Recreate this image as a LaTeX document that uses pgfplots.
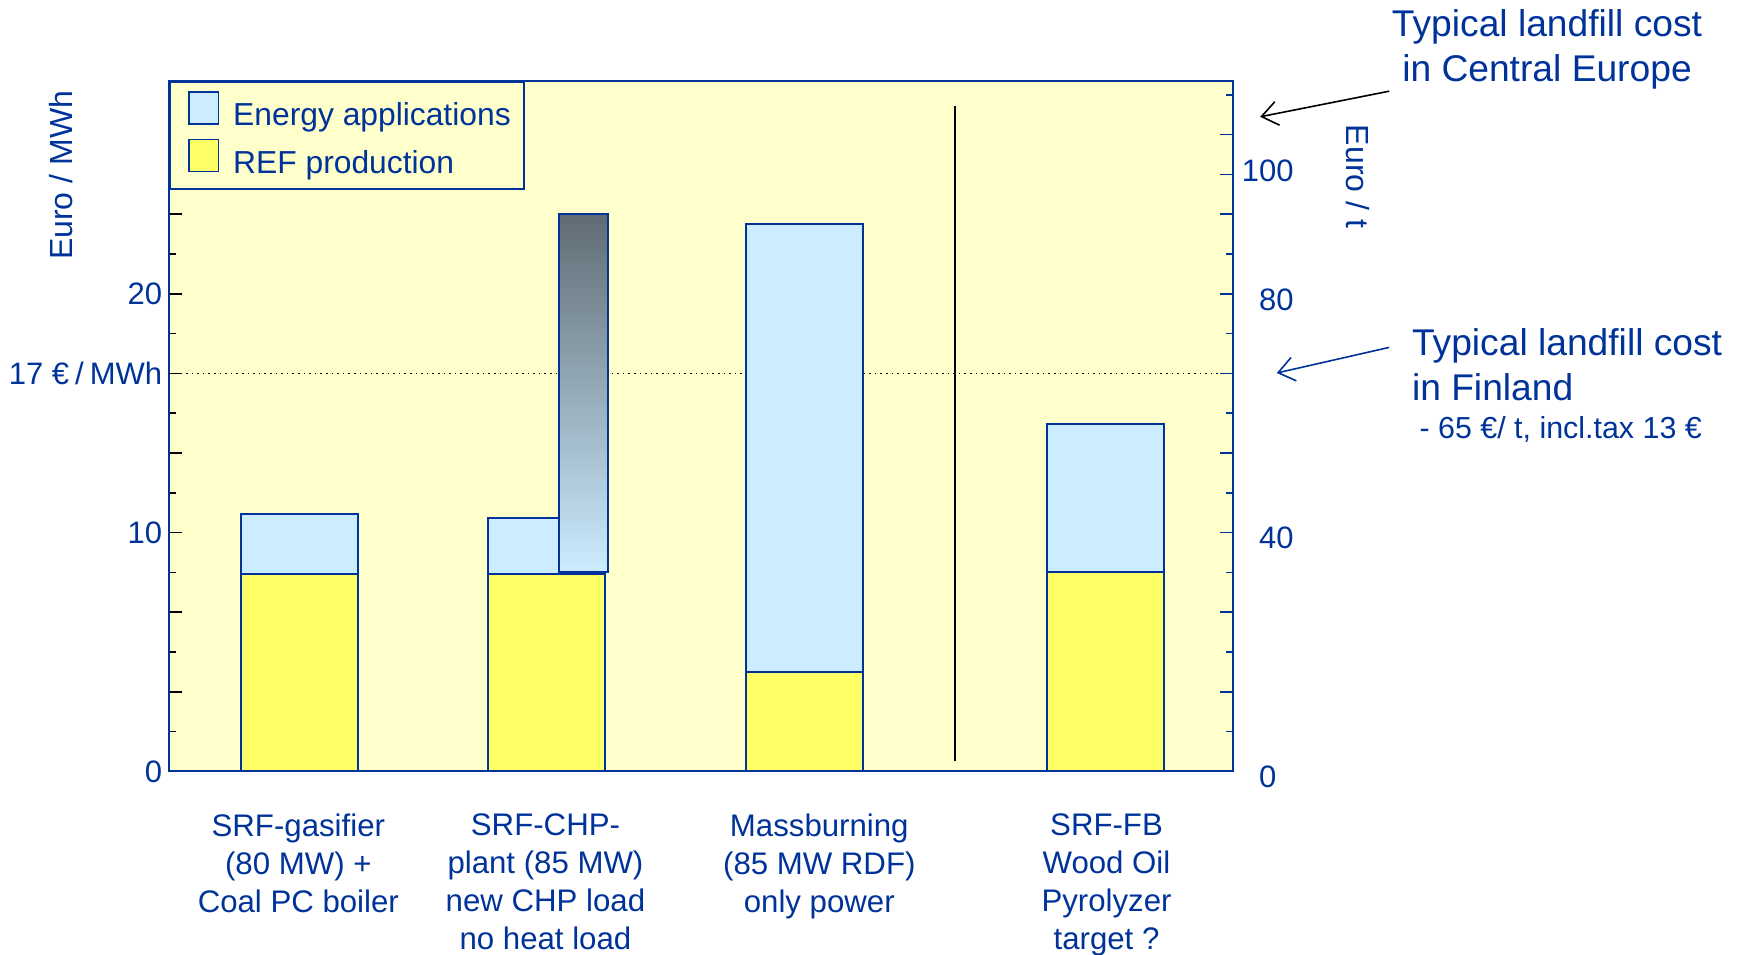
\documentclass[border=0pt]{standalone}
\usepackage{fontspec}
\setmainfont{Liberation Sans}
\usepackage{pgfplots}
\pgfplotsset{compat=1.18}
\usetikzlibrary{arrows.meta}
\definecolor{bgyellow}{HTML}{FFFFCC}
\definecolor{barblue}{HTML}{CCECFF}
\definecolor{baryellow}{HTML}{FFFF66}
\definecolor{lineblue}{HTML}{003399}
\definecolor{gradtop}{HTML}{5F6B73}
\newcommand\fA{\fontsize{18.6}{22.4}\selectfont}
\newcommand\fB{\fontsize{15.2}{18}\selectfont}
\newcommand\fC{\fontsize{15.6}{19}\selectfont}
\newcommand\fL{\fontsize{15.9}{19}\selectfont}
\newcommand\fT{\fontsize{15.5}{18}\selectfont}
\newcommand\fY{\fontsize{16}{19}\selectfont}
\begin{document}
\begin{tikzpicture}[x=1pt,y=1pt]
\path[use as bounding box] (0,0) rectangle (872,477);
\begin{axis}[
  at={(84.6pt,91.3pt)}, anchor=south west,
  scale only axis, width=532.1pt, height=345.1pt,
  xmin=0, xmax=956, ymin=0, ymax=28.9,
  axis background/.style={fill=bgyellow},
  axis line style={lineblue, line width=1pt},
  bar width=105, bar shift=0pt,
  xtick={116,338,584,842},
  xticklabels={{SRF-gasifier\\(80 MW) +\\Coal PC boiler},{SRF-CHP-\\plant (85 MW)\\new CHP load\\no heat load},{Massburning\\(85 MW RDF)\\only power},{SRF-FB\\Wood Oil\\Pyrolyzer\\target ?}},
  xticklabel style={align=center, font=\fC, text=lineblue, yshift=-17.5pt},
  major x tick style={draw=none},
  ytick pos=left,
  ytick={0,3.3333,6.6667,10,13.3333,16.6667,20,23.3333,26.6667},
  yticklabels={0,,,10,,{17 €\hspace{3pt}/\hspace{3pt}MWh},20,,},
  minor ytick={1.6667,5,8.3333,11.6667,15,18.3333,21.6667,25,28.3333},
  tick align=inside,
  major tick length=6.5pt, minor tick length=3.5pt,
  y tick style={black, line width=0.8pt},
  yticklabel style={font=\fT, text=lineblue},
  /pgf/number format/assume math mode=true,
  ylabel={Euro / MWh},
  every axis y label/.style={at={(rel axis cs:-0.1015,0.8635)}, rotate=90, anchor=center, font=\fY, text=lineblue},
  legend style={at={(0,1)}, anchor=north west, draw=lineblue, line width=1pt, fill=bgyellow,
    font=\fL, text=lineblue, inner xsep=4.7pt, inner ysep=4.5pt, row sep=3pt,
    /tikz/every odd column/.append style={column sep=5pt}},
  legend cell align=left,
  clip=false,
]
\addplot[black, dotted, line width=0.8pt, mark=none, forget plot] coordinates {(0,16.6667) (956,16.6667)};
\addplot[black, line width=1pt, mark=none, forget plot] coordinates {(706,0.42) (706,27.88)};
\addplot[ybar, fill=barblue, draw=lineblue, line width=1pt,
  legend image code/.code={\path (0pt,0pt); \draw[fill=barblue, draw=lineblue, line width=0.8pt] (4.2pt,-4.2pt) rectangle (18.9pt,11.8pt);}]
  coordinates {(117,10.77) (339,10.63) (571,22.94) (841,14.55)};
\addlegendentry{Energy applications}
\addplot[draw=lineblue, line width=1pt, top color=gradtop, bottom color=barblue, mark=none, forget plot]
  coordinates {(350,8.35) (394,8.35) (394,23.36) (350,23.36)} -- cycle;
\addplot[ybar, fill=baryellow, draw=lineblue, line width=1pt,
  legend image code/.code={\path (0pt,0pt) (0pt,-6.4pt); \draw[fill=baryellow, draw=lineblue, line width=0.8pt] (4.2pt,-4.2pt) rectangle (18.9pt,11.8pt);}]
  coordinates {(117,8.25) (339,8.25) (571,4.15) (841,8.35)};
\addlegendentry{REF production}
\end{axis}
\begin{axis}[
  at={(84.6pt,91.3pt)}, anchor=south west,
  scale only axis, width=532.1pt, height=345.1pt,
  xmin=0, xmax=956, ymin=0, ymax=115.6,
  axis x line=none, axis y line*=right,
  axis line style={lineblue, line width=1pt},
  ytick={0,13.3333,26.6667,40,53.3333,66.6667,80,93.3333,106.6667},
  yticklabels={0,,,40,,,80,,},
  minor ytick={6.6667,20,33.3333,46.6667,60,73.3333,86.6667,113.3333},
  extra y ticks={100}, extra y tick labels={100},
  extra y tick style={tick label style={xshift=-8.6pt, yshift=4.8pt}},
  tick align=inside,
  major tick length=6.5pt, minor tick length=3.5pt,
  y tick style={lineblue, line width=0.8pt},
  yticklabel style={font=\fT, text=lineblue, anchor=west, inner xsep=0pt, xshift=12.6pt, yshift=-2.8pt},
  /pgf/number format/assume math mode=true,
  ylabel={Euro / t},
  every axis y label/.style={at={(rel axis cs:1.117,0.862)}, rotate=-90, anchor=center, font=\fY, text=lineblue},
]
\addplot[draw=none, mark=none, forget plot] coordinates {(0,0) (956,0)};
\end{axis}
\node[align=center, font=\fA, text=lineblue] at (773.5,452.4) {Typical landfill cost\\in Central Europe};
\draw[-{Straight Barb[length=8pt,width=12pt]}, black, line width=0.8pt] (694.6,431.4) -- (630.1,418.6);
\node[align=left, anchor=west, inner sep=0pt, font=\fA, text=lineblue] at (705.8,294.5) {Typical landfill cost\\in Finland};
\node[anchor=west, inner sep=0pt, font=\fB, text=lineblue] at (709.6,262.4) {- 65 €/ t, incl.tax 13 €};
\draw[-{Straight Barb[length=8pt,width=12pt]}, lineblue, line width=0.8pt] (694.6,303.3) -- (638.4,290.5);
\end{tikzpicture}
\end{document}
